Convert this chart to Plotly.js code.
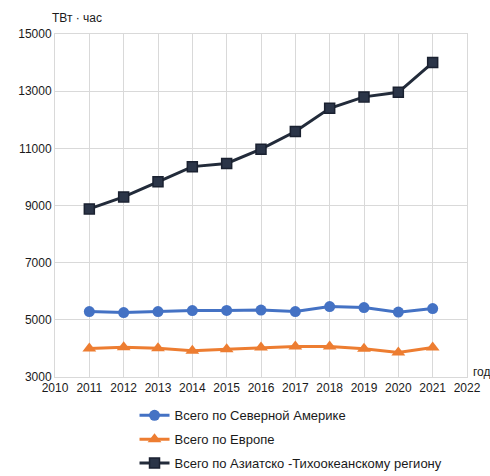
<!DOCTYPE html>
<html><head><meta charset="utf-8">
<script src="https://cdn.plot.ly/plotly-3.0.1.min.js"></script>
<style>body{margin:0;background:#fff}#c{width:490px;height:476px}</style>
</head><body><div id="c"></div>
<script>
const years = [2011,2012,2013,2014,2015,2016,2017,2018,2019,2020,2021];
const northAmerica = [5290,5255,5290,5325,5330,5340,5290,5465,5430,5270,5395];
const europe = [4000,4045,4010,3915,3975,4030,4065,4065,3985,3855,4030];
const asiaPacific = [8880,9300,9830,10360,10470,10970,11590,12400,12800,12960,14000];
const names = ['Всего по Северной Америке','Всего по Европе','Всего по Азиатско -Тихоокеанскому региону'];
const xTicks = [2010,2011,2012,2013,2014,2015,2016,2017,2018,2019,2020,2021,2022];
const yTicks = [3000,5000,7000,9000,11000,13000,15000];

const font = {family:'"Liberation Sans", Arial, sans-serif', size:12, color:'#1a1a1a'};
const legFont = {family:'"Liberation Sans", Arial, sans-serif', size:13, color:'#1a1a1a'};
const traces = [
  {x:years, y:northAmerica, name:names[0], legendgroup:'a', mode:'lines+markers', line:{color:'#4472c4', width:3},
   marker:{symbol:'circle', size:11, color:'#4472c4'}},
  {x:years, y:europe, name:names[1], legendgroup:'b', mode:'lines+markers', line:{color:'#ed7d31', width:3},
   marker:{symbol:'triangle-up', size:12, color:'#ed7d31'}},
  {x:years, y:asiaPacific, name:names[2], legendgroup:'c', mode:'lines+markers', line:{color:'#222b3a', width:3},
   marker:{symbol:'square', size:10, color:'#2b3548', line:{color:'#1a2130', width:1.5}}}
];
const layout = {
  width:490, height:476, paper_bgcolor:'#fff', plot_bgcolor:'#fff',
  margin:{l:55, r:23, t:34, b:99, autoexpand:false},
  font:font, showlegend:true,
  xaxis:{range:[2010,2022], tickvals:xTicks, ticktext:xTicks.map(String), showgrid:true, gridcolor:'#d9d9d9', gridwidth:1,
    zeroline:false, showline:true, linecolor:'#d9d9d9', mirror:true, ticks:'', ticklen:0, tickfont:font, fixedrange:true},
  yaxis:{range:[3000,15000], tickvals:yTicks, ticktext:yTicks.map(String), showgrid:true, gridcolor:'#d9d9d9', gridwidth:1,
    zeroline:false, showline:true, linecolor:'#d9d9d9', mirror:true, ticks:'', tickfont:font, fixedrange:true},
  legend:{orientation:'v', x:0.193, xanchor:'left', y:-0.068, yanchor:'top', font:legFont, tracegroupgap:4,
    itemwidth:30, bgcolor:'rgba(0,0,0,0)', traceorder:'grouped'},
  annotations:[
    {text:'ТВт · час', xref:'paper', yref:'paper', x:-0.012, y:1.047, xanchor:'left', yanchor:'middle', showarrow:false, font:font},
    {text:'год', xref:'paper', yref:'paper', x:1.01, y:0.015, xanchor:'left', yanchor:'middle', showarrow:false, font:font}
  ]
};
Plotly.newPlot('c', traces, layout, {displayModeBar:false, staticPlot:true});
</script></body></html>
